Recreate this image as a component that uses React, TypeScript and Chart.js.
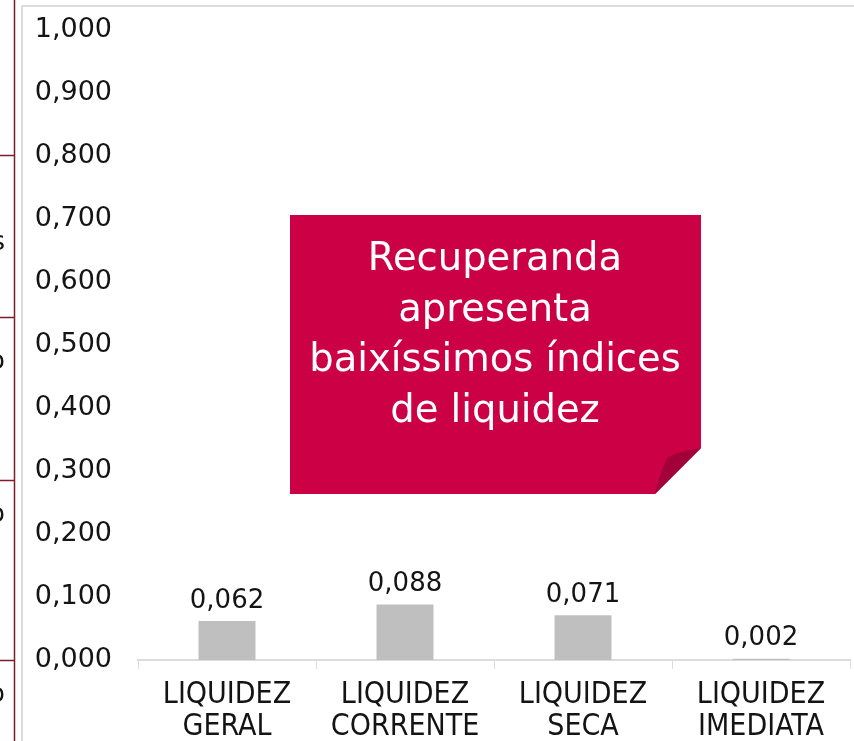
import React, { useEffect, useRef } from "react";
import { Chart, registerables } from "chart.js";

Chart.register(...registerables);

const categories: string[][] = [
  ["LIQUIDEZ", "GERAL"],
  ["LIQUIDEZ", "CORRENTE"],
  ["LIQUIDEZ", "SECA"],
  ["LIQUIDEZ", "IMEDIATA"],
];
const values: number[] = [0.062, 0.088, 0.071, 0.002];
const yMin = 0;
const yMax = 1;
const yStep = 0.1;
const calloutLines: string[] = ["Recuperanda", "apresenta", "baixíssimos índices", "de liquidez"];
const sideLetters: string[] = ["s", "o", "o", "o"];

const NUM_FONT = "'DejaVu Sans', 'Open Sans', sans-serif";
const CAT_FONT = "'DejaVu Sans Condensed', 'Liberation Sans Narrow', 'DejaVu Sans', sans-serif";
const TEXT = "#141414";
const RED = "#CC0044";
const RED_DARK = "#A3003A";
const MAROON = "#7E1B2D";
const FRAME = "#DCDCDC";

const fmt = (v: number) => v.toFixed(3).replace(".", ",");

const framePlugin = {
  id: "frame",
  beforeDraw(chart: any) {
    const ctx = chart.ctx as CanvasRenderingContext2D;
    const W = chart.width;
    const H = chart.height;
    ctx.save();
    ctx.fillStyle = "#ffffff";
    ctx.fillRect(0, 0, W, H);
    ctx.strokeStyle = MAROON;
    ctx.lineWidth = 1.5;
    ctx.beginPath();
    ctx.moveTo(14.5, 0);
    ctx.lineTo(14.5, H);
    [155, 317, 480, 660].forEach((y) => {
      ctx.moveTo(0, y + 0.5);
      ctx.lineTo(14.5, y + 0.5);
    });
    ctx.stroke();
    ctx.fillStyle = TEXT;
    ctx.font = `26px ${NUM_FONT}`;
    ctx.textAlign = "right";
    ctx.textBaseline = "middle";
    const ys = [243, 362, 515, 695];
    sideLetters.forEach((t, i) => ctx.fillText(t, 5, ys[i]));
    ctx.strokeStyle = FRAME;
    ctx.lineWidth = 2;
    ctx.beginPath();
    ctx.moveTo(22, H);
    ctx.lineTo(22, 6);
    ctx.lineTo(W, 6);
    ctx.stroke();
    ctx.restore();
  },
};

const valueLabelPlugin = {
  id: "valueLabels",
  afterDatasetsDraw(chart: any) {
    const ctx = chart.ctx as CanvasRenderingContext2D;
    const meta = chart.getDatasetMeta(0);
    ctx.save();
    ctx.fillStyle = TEXT;
    ctx.font = `26px ${NUM_FONT}`;
    ctx.textAlign = "center";
    ctx.textBaseline = "middle";
    meta.data.forEach((bar: any, i: number) => {
      ctx.fillText(fmt(values[i]), bar.x, bar.y - 20);
    });
    ctx.restore();
  },
};

const calloutPlugin = {
  id: "callout",
  afterDraw(chart: any) {
    const ctx = chart.ctx as CanvasRenderingContext2D;
    const L = 290, T = 215, R = 701, B = 494, cutY = 448, cutX = 655;
    ctx.save();
    ctx.fillStyle = RED;
    ctx.beginPath();
    ctx.moveTo(L, T);
    ctx.lineTo(R, T);
    ctx.lineTo(R, cutY);
    ctx.lineTo(cutX, B);
    ctx.lineTo(L, B);
    ctx.closePath();
    ctx.fill();
    ctx.fillStyle = RED_DARK;
    ctx.beginPath();
    ctx.moveTo(R, cutY);
    ctx.quadraticCurveTo(675, 452, 667, 458);
    ctx.quadraticCurveTo(661, 470, cutX, B);
    ctx.closePath();
    ctx.fill();
    ctx.fillStyle = "#ffffff";
    ctx.font = `38.5px ${NUM_FONT}`;
    ctx.textAlign = "center";
    ctx.textBaseline = "middle";
    const cx = 495;
    calloutLines.forEach((t, i) => ctx.fillText(t, cx, 260 + i * 50.5));
    ctx.restore();
  },
};

export default function App() {
  const ref = useRef<HTMLCanvasElement | null>(null);
  useEffect(() => {
    if (!ref.current) return;
    const chart = new Chart(ref.current, {
      type: "bar",
      data: {
        labels: categories as any,
        datasets: [
          {
            data: values,
            backgroundColor: "#BFBFBF",
            barPercentage: 0.32,
            categoryPercentage: 1,
          },
        ],
      },
      options: {
        responsive: false,
        animation: false,
        devicePixelRatio: 1,
        layout: { padding: { top: 30, right: 4, left: 0, bottom: 0 } },
        plugins: { legend: { display: false }, tooltip: { enabled: false } },
        scales: {
          x: {
            grid: {
              display: true,
              drawOnChartArea: false,
              drawTicks: true,
              tickLength: 9,
              color: FRAME,
              offset: true,
            },
            border: { display: true, color: FRAME, width: 2 },
            ticks: {
              font: { family: CAT_FONT, size: 30, lineHeight: 1.07 },
              color: TEXT,
              padding: 10,
              maxRotation: 0,
              autoSkip: false,
            },
            afterFit: (s: any) => {
              s.height = 81;
              s.paddingLeft = 0;
              s.paddingRight = 0;
            },
          },
          y: {
            min: yMin,
            max: yMax,
            ticks: {
              stepSize: yStep,
              callback: (v: any) => fmt(Number(v)),
              font: { family: NUM_FONT, size: 27 },
              color: TEXT,
              padding: 26,
            },
            grid: { display: false, drawTicks: false },
            border: { display: false },
            afterFit: (s: any) => {
              s.width = 138;
              s.paddingTop = 0;
              s.paddingBottom = 0;
            },
          },
        },
      },
      plugins: [framePlugin, valueLabelPlugin, calloutPlugin],
    });
    return () => chart.destroy();
  }, []);
  return (
    <div style={{ position: "absolute", left: 0, top: 0, width: 854, height: 741 }}>
      <canvas ref={ref} width={854} height={741} style={{ display: "block", width: 854, height: 741 }} />
    </div>
  );
}
